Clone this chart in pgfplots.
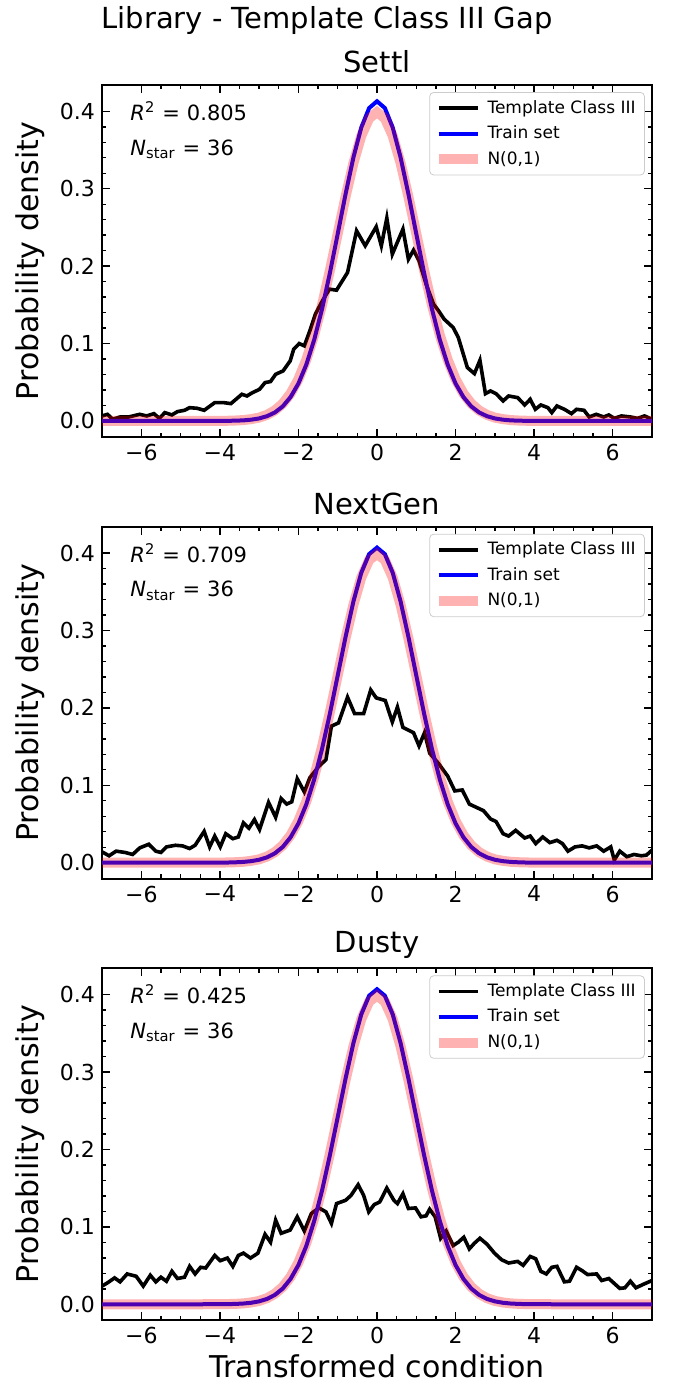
\documentclass[border=0pt]{standalone}
\usepackage{fontspec}
\setmainfont{DejaVu Sans}
\usepackage{pgfplots}
\usepackage{pgfplotstable}
\pgfplotsset{compat=1.18}

% Template Class III curves
\pgfplotstableread{
x y
-7.00 0.0065
-6.86 0.0086
-6.73 0.0022
-6.54 0.0052
-6.32 0.0052
-6.04 0.0086
-5.86 0.0065
-5.68 0.0095
-5.54 0.0034
-5.40 0.0108
-5.22 0.0078
-5.08 0.0121
-4.90 0.0138
-4.77 0.0172
-4.58 0.0164
-4.40 0.0138
-4.13 0.0237
-3.90 0.0237
-3.72 0.0224
-3.44 0.0345
-3.31 0.0323
-3.17 0.0366
-2.99 0.0409
-2.85 0.0496
-2.71 0.0509
-2.58 0.0603
-2.39 0.0647
-2.21 0.0776
-2.12 0.0927
-1.98 0.1000
-1.85 0.0970
-1.71 0.1164
-1.57 0.1379
-1.39 0.1552
-1.21 0.1703
-1.03 0.1690
-0.75 0.1918
-0.52 0.2457
-0.30 0.2263
-0.02 0.2509
0.11 0.2263
0.25 0.2621
0.39 0.2155
0.66 0.2478
0.80 0.2090
0.93 0.2207
1.07 0.2069
1.25 0.1767
1.44 0.1509
1.57 0.1422
1.71 0.1315
1.94 0.1207
2.07 0.1078
2.30 0.0690
2.48 0.0612
2.62 0.0784
2.76 0.0353
2.89 0.0388
3.03 0.0353
3.21 0.0259
3.35 0.0323
3.58 0.0302
3.76 0.0207
3.90 0.0280
4.03 0.0151
4.17 0.0207
4.35 0.0172
4.45 0.0108
4.58 0.0194
4.77 0.0151
4.95 0.0095
5.08 0.0151
5.27 0.0138
5.40 0.0052
5.58 0.0086
5.77 0.0052
5.90 0.0078
6.04 0.0034
6.22 0.0065
6.45 0.0052
6.63 0.0034
6.81 0.0065
7.00 0.0022
}\settl

\pgfplotstableread{
x y
-7.00 0.0140
-6.82 0.0089
-6.64 0.0149
-6.41 0.0132
-6.22 0.0106
-6.04 0.0191
-5.81 0.0238
-5.63 0.0149
-5.50 0.0132
-5.36 0.0204
-5.13 0.0225
-4.95 0.0217
-4.77 0.0183
-4.63 0.0225
-4.40 0.0404
-4.26 0.0204
-4.13 0.0344
-3.99 0.0204
-3.85 0.0374
-3.67 0.0310
-3.53 0.0332
-3.40 0.0514
-3.26 0.0446
-3.12 0.0557
-2.99 0.0429
-2.76 0.0778
-2.58 0.0587
-2.44 0.0829
-2.30 0.0757
-2.17 0.0786
-2.03 0.1084
-1.85 0.0914
-1.71 0.1097
-1.48 0.1245
-1.30 0.1330
-1.16 0.1764
-0.98 0.1806
-0.75 0.2138
-0.57 0.1925
-0.34 0.1925
-0.16 0.2231
-0.02 0.2129
0.21 0.2095
0.39 0.1819
0.52 0.2010
0.66 0.1747
0.93 0.1679
1.07 0.1509
1.21 0.1679
1.34 0.1415
1.57 0.1279
1.80 0.1118
1.98 0.0927
2.17 0.0939
2.35 0.0757
2.71 0.0672
2.89 0.0565
3.03 0.0531
3.21 0.0374
3.35 0.0344
3.53 0.0417
3.76 0.0319
3.90 0.0344
4.04 0.0247
4.22 0.0332
4.40 0.0259
4.58 0.0289
4.72 0.0247
4.86 0.0149
5.04 0.0204
5.22 0.0217
5.40 0.0191
5.59 0.0217
5.77 0.0149
5.95 0.0204
6.04 0.0034
6.18 0.0149
6.36 0.0077
6.54 0.0106
6.73 0.0089
6.86 0.0098
7.00 0.0162
}\nextgen

\pgfplotstableread{
x y
-7.00 0.0235
-6.86 0.0277
-6.68 0.0341
-6.54 0.0290
-6.36 0.0392
-6.13 0.0362
-5.95 0.0235
-5.77 0.0375
-5.63 0.0290
-5.50 0.0350
-5.36 0.0298
-5.22 0.0426
-5.08 0.0333
-4.90 0.0350
-4.77 0.0490
-4.63 0.0392
-4.49 0.0478
-4.36 0.0469
-4.13 0.0631
-3.99 0.0563
-3.81 0.0597
-3.67 0.0490
-3.53 0.0631
-3.40 0.0661
-3.22 0.0597
-3.03 0.0661
-2.85 0.0904
-2.71 0.0802
-2.58 0.1087
-2.44 0.0917
-2.21 0.0959
-2.03 0.1130
-1.85 0.0947
-1.67 0.1173
-1.48 0.1245
-1.30 0.1194
-1.16 0.1045
-1.03 0.1301
-0.80 0.1343
-0.66 0.1407
-0.48 0.1544
-0.34 0.1407
-0.21 0.1194
-0.07 0.1288
0.07 0.1322
0.25 0.1501
0.43 0.1343
0.52 0.1301
0.66 0.1428
0.80 0.1237
0.98 0.1245
1.12 0.1130
1.25 0.1143
1.34 0.1228
1.48 0.1130
1.62 0.0853
1.76 0.0947
1.94 0.0759
2.07 0.0802
2.21 0.0866
2.35 0.0716
2.48 0.0789
2.62 0.0853
2.80 0.0776
2.99 0.0661
3.17 0.0576
3.35 0.0533
3.58 0.0554
3.72 0.0503
3.90 0.0618
4.04 0.0588
4.17 0.0426
4.31 0.0392
4.45 0.0478
4.58 0.0490
4.77 0.0290
4.90 0.0298
5.08 0.0478
5.22 0.0435
5.36 0.0384
5.59 0.0392
5.72 0.0307
5.90 0.0333
6.18 0.0205
6.31 0.0213
6.45 0.0298
6.59 0.0213
6.77 0.0256
7.00 0.0307
}\dusty

% N(0,1) and the two train-set curves, as numbers
\pgfplotstableread{
x n t1 t2
-7.0 0.0000 0.0000 0.0000
-5.0 0.0000 0.0000 0.0000
-4.0 0.0001 0.0001 0.0001
-3.8 0.0003 0.0002 0.0002
-3.6 0.0006 0.0004 0.0005
-3.4 0.0012 0.0008 0.0010
-3.2 0.0024 0.0017 0.0020
-3.0 0.0044 0.0033 0.0038
-2.8 0.0079 0.0062 0.0069
-2.6 0.0136 0.0110 0.0121
-2.4 0.0224 0.0188 0.0203
-2.2 0.0355 0.0309 0.0328
-2.0 0.0540 0.0484 0.0507
-1.8 0.0790 0.0727 0.0753
-1.6 0.1109 0.1047 0.1074
-1.4 0.1497 0.1444 0.1467
-1.2 0.1942 0.1909 0.1923
-1.0 0.2420 0.2417 0.2418
-0.8 0.2897 0.2931 0.2917
-0.6 0.3332 0.3405 0.3375
-0.4 0.3683 0.3791 0.3745
-0.2 0.3910 0.4042 0.3986
0.0 0.3989 0.4130 0.4070
0.2 0.3910 0.4042 0.3986
0.4 0.3683 0.3791 0.3745
0.6 0.3332 0.3405 0.3375
0.8 0.2897 0.2931 0.2917
1.0 0.2420 0.2417 0.2418
1.2 0.1942 0.1909 0.1923
1.4 0.1497 0.1444 0.1467
1.6 0.1109 0.1047 0.1074
1.8 0.0790 0.0727 0.0753
2.0 0.0540 0.0484 0.0507
2.2 0.0355 0.0309 0.0328
2.4 0.0224 0.0188 0.0203
2.6 0.0136 0.0110 0.0121
2.8 0.0079 0.0062 0.0069
3.0 0.0044 0.0033 0.0038
3.2 0.0024 0.0017 0.0020
3.4 0.0012 0.0008 0.0010
3.6 0.0006 0.0004 0.0005
3.8 0.0003 0.0002 0.0002
4.0 0.0001 0.0001 0.0001
5.0 0.0000 0.0000 0.0000
7.0 0.0000 0.0000 0.0000
}\gauss

\pgfplotsset{
  panel/.style={
    scale only axis, width=275pt, height=176pt,
    xmin=-7, xmax=7, ymin=-0.0207, ymax=0.434,
    xtick={-6,-4,-2,0,2,4,6}, xticklabels={−6,−4,−2,0,2,4,6},
    ytick={0,0.1,0.2,0.3,0.4}, yticklabels={0.0,0.1,0.2,0.3,0.4},
    minor x tick num=3, minor y tick num=4,
    tick align=inside, xtick pos=both, ytick pos=both,
    major tick length=4pt, minor tick length=2.2pt,
    every tick/.style={black, line width=0.7pt},
    axis line style={line width=0.9pt},
    tick label style={font=\fontsize{11}{13}\selectfont},
    every axis title/.style={at={(0.5,1)}, anchor=center, yshift=11.5pt,
      font=\fontsize{14.5}{17}\selectfont},
    ylabel={Probability density},
    every axis y label/.style={at={(axis description cs:-0.131,0.5)},
      rotate=90, anchor=center, font=\fontsize{15}{18}\selectfont},
    legend style={at={(0.987,0.980)}, anchor=north east, draw=black!20,
      rounded corners=2pt, fill=white, fill opacity=0.8, text opacity=1,
      font=\fontsize{8.5}{10}\selectfont, inner xsep=2pt, inner ysep=1.5pt,
      row sep=0pt, nodes={inner sep=2.4pt}},
    legend cell align=left,
    legend image code/.code={\draw[#1] (0pt,0pt) -- (19.5pt,0pt);},
  },
  tc/.style={black, line width=1.8pt},
  tr/.style={blue, line width=2pt},
  nn/.style={red, draw opacity=0.3, line width=5pt},
}
\tikzset{note/.style={anchor=west, inner sep=0pt, font=\fontsize{10.5}{12}\selectfont}}

\begin{document}
\begin{tikzpicture}
\useasboundingbox (0,0) rectangle (338pt,-693.5pt);

\node[font=\fontsize{14.5}{17}\selectfont] at (163.5pt,-10pt) {Library - Template Class III Gap};

\begin{axis}[panel, at={(51pt,-42.5pt)}, anchor=north west, title={Settl}]
\addplot[tc] table[x=x, y=y] {\settl};
\addlegendentry{Template Class III}
\addplot[tr] table[x=x, y=t1] {\gauss};
\addlegendentry{Train set}
\addplot[nn] table[x=x, y=n] {\gauss};
\addlegendentry{N(0,1)}
\node[note] at (rel axis cs:0.051,0.926) {\textit{R}\textsuperscript{2}\,\,=\,\,0.805};
\node[note] at (rel axis cs:0.051,0.818) {\textit{N}\textsubscript{star}\,\,=\,\,36};
\end{axis}

\begin{axis}[panel, at={(51pt,-263.35pt)}, anchor=north west, title={NextGen}]
\addplot[tc] table[x=x, y=y] {\nextgen};
\addlegendentry{Template Class III}
\addplot[tr] table[x=x, y=t2] {\gauss};
\addlegendentry{Train set}
\addplot[nn] table[x=x, y=n] {\gauss};
\addlegendentry{N(0,1)}
\node[note] at (rel axis cs:0.051,0.926) {\textit{R}\textsuperscript{2}\,\,=\,\,0.709};
\node[note] at (rel axis cs:0.051,0.818) {\textit{N}\textsubscript{star}\,\,=\,\,36};
\end{axis}

\begin{axis}[panel, at={(51pt,-484.15pt)}, anchor=north west, title={Dusty},
  xlabel={Transformed condition},
  every axis x label/.style={at={(axis description cs:0.5,0)}, anchor=center,
    yshift=-23pt, font=\fontsize{15}{18}\selectfont}]
\addplot[tc] table[x=x, y=y] {\dusty};
\addlegendentry{Template Class III}
\addplot[tr] table[x=x, y=t2] {\gauss};
\addlegendentry{Train set}
\addplot[nn] table[x=x, y=n] {\gauss};
\addlegendentry{N(0,1)}
\node[note] at (rel axis cs:0.051,0.926) {\textit{R}\textsuperscript{2}\,\,=\,\,0.425};
\node[note] at (rel axis cs:0.051,0.818) {\textit{N}\textsubscript{star}\,\,=\,\,36};
\end{axis}
\end{tikzpicture}
\end{document}
